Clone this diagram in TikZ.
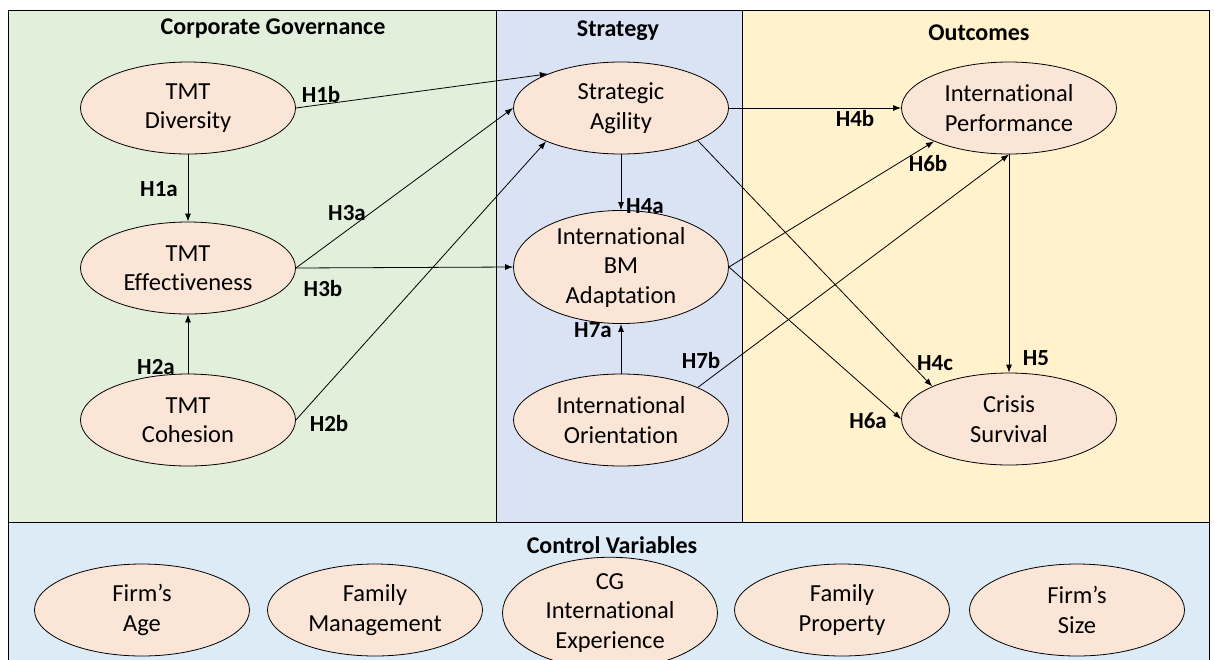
\documentclass[tikz,border=0pt]{standalone}
\usepackage{fontspec}
\setmainfont{Carlito}[Ligatures=CommonOff]
\usetikzlibrary{shapes.geometric,arrows.meta}

\definecolor{govgreen}{HTML}{E2EFDA}
\definecolor{stratblue}{HTML}{DAE3F3}
\definecolor{outyellow}{HTML}{FFF2CC}
\definecolor{ctrlblue}{HTML}{DDEBF7}
\definecolor{varfill}{HTML}{FBE5D6}

\tikzset{
  var/.style={ellipse, draw, fill=varfill, line width=0.8pt, minimum width=215pt,
    minimum height=92pt, inner sep=0pt, align=center, font=\fontsize{24.5}{29.5}\selectfont},
  hyp/.style={font=\fontsize{23}{27}\selectfont\bfseries, inner sep=0pt},
  paneltitle/.style={font=\fontsize{24}{28}\selectfont\bfseries, inner sep=0pt, anchor=base},
  link/.style={-{Latex[length=8pt,width=6pt]}, line width=0.8pt},
  panel/.style={draw, line width=0.8pt}
}

\begin{document}
\begin{tikzpicture}[x=1pt,y=-1pt]

      \useasboundingbox (0,0) rectangle (1214,659);

      % Panels
      \draw[panel, fill=govgreen] (8,10) rectangle (496,522);
      \draw[panel, fill=stratblue] (496,10) rectangle (742,522);
      \draw[panel, fill=outyellow] (742,10) rectangle (1209,522);
      \draw[panel, fill=ctrlblue] (8,522) rectangle (1209,664);

      % Panel titles
      \node[paneltitle] (tgov) at (273,34) {Corporate Governance};
      \node[paneltitle] (tstrat) at (618,36) {Strategy};
      \node[paneltitle] (tout) at (979,40) {Outcomes};
      \node[paneltitle] (tctrl) at (612,553) {Control Variables};

      % Corporate governance
      \node[var] (div) at (188,108) {TMT\\Diversity};
      \node[var] (eff) at (188,268) {TMT\\Effectiveness};
      \node[var] (coh) at (188,420) {TMT\\Cohesion};

      % Strategy
      \node[var] (sa) at (621,108) {Strategic\\Agility};
      \node[var] (bm) at (621,267) {International\\BM\\Adaptation};
      \node[var] (io) at (621,420) {International\\Orientation};

      % Outcomes
      \node[var] (ip) at (1009,108) {International\\Performance};
      \node[var] (cs) at (1009,419) {Crisis\\Survival};

      % Control variables
      \node[var] (firmage) at (142,610) {Firm's\\Age};
      \node[var] (famman) at (375,610) {Family\\Management};
      \node[var] (cgexp) at (610,613) {CG\\International\\Experience};
      \node[var] (famprop) at (842,610) {Family\\Property};
      \node[var] (firmsize) at (1077,610) {Firm's\\Size};

      % Hypotheses
      \draw[link] (div.south) -- (eff.north);
      \draw[link] (div.east) -- (sa.155);
      \draw[link] (eff.east) -- (sa.west);
      \draw[link] (eff.east) -- (bm.west);
      \draw[link] (coh.north) -- (eff.south);
      \draw[link] (coh.east) -- (sa.204);
      \draw[link] (sa.south) -- (bm.north);
      \draw[link] (sa.east) -- (ip.west);
      \draw[link] (sa.-23) -- (cs.157);
      \draw[link] (bm.east) -- (ip.204);
      \draw[link] (bm.east) -- (cs.west);
      \draw[link] (io.north) -- (bm.south);
      \draw[link] (io.23) -- (ip.south);
      \draw[link] (ip.south) -- (cs.north);

      % Labels
      \node[hyp] (h1a) at (159,189) {H1a};
      \node[hyp] (h1b) at (321,95) {H1b};
      \node[hyp] (h2a) at (156,367) {H2a};
      \node[hyp] (h2b) at (329,424) {H2b};
      \node[hyp] (h3a) at (347,213) {H3a};
      \node[hyp] (h3b) at (323,289) {H3b};
      \node[hyp] (h4a) at (645,206) {H4a};
      \node[hyp] (h4b) at (855,119) {H4b};
      \node[hyp] (h4c) at (935,363) {H4c};
      \node[hyp] (h5) at (1036,358) {H5};
      \node[hyp] (h6a) at (868,421) {H6a};
      \node[hyp] (h6b) at (928,164) {H6b};
      \node[hyp] (h7a) at (593,330) {H7a};
      \node[hyp] (h7b) at (701,361) {H7b};

\end{tikzpicture}
\end{document}
